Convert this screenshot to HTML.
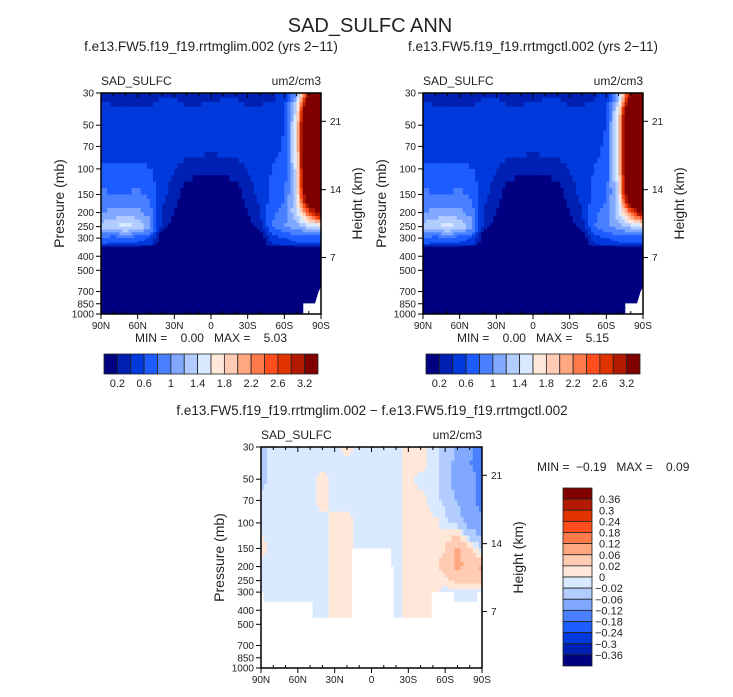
<!DOCTYPE html>
<html><head><meta charset="utf-8"><style>
html,body{margin:0;padding:0;background:#fff;}
svg text{font-family:"Liberation Sans",sans-serif;fill:#222;white-space:pre;}
</style></head><body>
<svg id="fig" width="733" height="692" viewBox="0 0 733 692" xmlns="http://www.w3.org/2000/svg">
<text x="370" y="32" font-size="20" text-anchor="middle">SAD_SULFC ANN</text>
<text x="211" y="51" font-size="13.5" text-anchor="middle">f.e13.FW5.f19_f19.rrtmglim.002 (yrs 2−11)</text>
<text x="533" y="51" font-size="13.5" text-anchor="middle">f.e13.FW5.f19_f19.rrtmgctl.002 (yrs 2−11)</text>
<g id="layer"></g>
<text x="372" y="415" font-size="13.5" text-anchor="middle">f.e13.FW5.f19_f19.rrtmglim.002 − f.e13.FW5.f19_f19.rrtmgctl.002</text>
</svg>
<script>
const lats=[90,80,70,60,50,40,30,20,10,0,-10,-20,-30,-40,-50,-60,-70,-80,-90];
const levs=[30,40,50,70,100,150,200,250,300,330,350,400,500,700,1000];
const pTicks=[30,50,70,100,150,200,250,300,400,500,700,850,1000];
const latTicks=[90,60,30,0,-30,-60,-90];
const latTickLabels=['90N','60N','30N','0','30S','60S','90S'];
const hTicks=['7','14','21'];
const hTickP=[408,139,47];
const absLevels=[0.2,0.4,0.6,0.8,1,1.2,1.4,1.6,1.8,2,2.2,2.4,2.6,2.8,3.2];
const absLabels=['0.2','0.6','1','1.4','1.8','2.2','2.6','3.2'];
const diffLevels=[-0.36,-0.3,-0.24,-0.18,-0.12,-0.06,-0.02,0,0.02,0.06,0.12,0.18,0.24,0.3,0.36];
const diffLabels=['0.36','0.3','0.24','0.18','0.12','0.06','0.02','0','−0.02','−0.06','−0.12','−0.18','−0.24','−0.3','−0.36'];
const colors=['#000080','#0020b4','#0039dc','#1d5cff','#4a80ff','#80a8ff','#b3ccff','#d9e9ff','#ffe8d9','#ffcbb3','#ffa880','#ff7a4a','#ff4d1d','#e03300','#b31a00','#800000'];
const z=[0,0,0,0,0,0,0,0,0,0,0,0,0,0,0,0,0,0,0];
const lim=[
[.35,.35,.35,.35,.35,.38,.38,.35,.35,.35,.38,.38,.35,.35,.35,.45,1.0,3.0,3.5],
[.45,.42,.41,.41,.42,.45,.45,.42,.42,.45,.45,.45,.42,.42,.45,.55,1.5,4.5,5],
[.5,.5,.5,.5,.5,.5,.5,.5,.5,.5,.5,.5,.5,.5,.5,.6,1.6,5,5],
[.5,.5,.5,.5,.5,.5,.5,.5,.5,.5,.5,.5,.5,.5,.55,.62,1.6,5,5],
[.65,.65,.62,.65,.6,.5,.42,.3,.25,.22,.25,.3,.42,.5,.6,.65,1.5,5,5],
[.85,.8,.8,.85,.75,.45,.3,.1,.05,.05,.05,.1,.3,.45,.65,.75,1.4,4.5,5],
[1.0,1.05,1.1,1.05,.9,.4,.2,0,0,0,0,0,.2,.4,.75,.9,1.4,2.5,3.5],
[1.3,1.4,1.5,1.4,1.1,.3,.1,0,0,0,0,0,.1,.3,.8,1.0,1.1,1.3,1.4],
[.8,.7,.75,.7,.6,0,0,0,0,0,0,0,0,0,.5,.6,.7,.7,.7],
[.6,.55,.55,.55,.5,0,0,0,0,0,0,0,0,0,.4,.5,.55,.55,.55],
z,z,z,z,[0,0,0,0,0,0,0,0,0,0,0,0,0,0,0,0,0,null,null]];
const ctl=[
[.35,.35,.35,.35,.35,.38,.38,.35,.35,.35,.38,.38,.35,.35,.35,.46,1.1,3.1,3.6],
[.45,.42,.41,.41,.42,.45,.45,.42,.42,.45,.45,.45,.42,.42,.45,.56,1.6,4.6,5.1],
[.5,.5,.5,.5,.5,.5,.5,.5,.5,.5,.5,.5,.5,.5,.5,.61,1.7,5.1,5.1],
[.5,.5,.5,.5,.5,.5,.5,.5,.5,.5,.5,.5,.5,.5,.55,.63,1.7,5.1,5.1],
[.65,.65,.62,.65,.6,.5,.42,.3,.25,.22,.25,.3,.42,.5,.6,.66,1.6,5.1,5.1],
[.85,.8,.8,.85,.75,.45,.3,.1,.05,.05,.05,.1,.3,.45,.65,.75,1.4,4.5,5],
[1.0,1.05,1.1,1.05,.9,.4,.2,0,0,0,0,0,.2,.4,.75,.88,1.35,2.4,3.4],
[1.3,1.4,1.5,1.4,1.1,.3,.1,0,0,0,0,0,.1,.3,.78,.98,1.08,1.28,1.38],
[.8,.7,.75,.7,.6,0,0,0,0,0,0,0,0,0,.5,.6,.7,.7,.7],
[.6,.55,.55,.55,.5,0,0,0,0,0,0,0,0,0,.4,.5,.55,.55,.55],
z,z,z,z,[0,0,0,0,0,0,0,0,0,0,0,0,0,0,0,0,0,null,null]];
const r3=[-.01,-.01,-.01,-.01,-.01,-.01,.01,.01,-.01,-.01,-.01,-.01,.01,.01,.01,-.01,-.01,-.01,-.01];
const diff=[
[-.03,-.01,-.01,-.01,-.01,-.01,-.01,.01,-.01,-.01,-.01,-.01,.01,.01,-.01,-.03,-.07,-.1,-.15],
[-.03,-.01,-.01,-.01,-.01,-.01,-.01,-.01,-.01,-.01,-.01,-.01,.01,.01,-.01,-.03,-.08,-.12,-.15],
[-.03,-.01,-.01,-.01,-.01,.01,-.01,-.01,-.01,-.01,-.01,-.01,.01,-.01,-.01,-.03,-.1,-.08,-.15],
[-.01,-.01,-.01,-.01,-.01,.01,-.01,-.01,-.01,-.01,-.01,-.01,.01,.01,-.01,-.03,-.06,-.1,-.15],
[-.01,-.01,-.01,-.01,-.01,-.01,.01,.01,-.01,-.01,-.01,-.01,.01,.01,.01,-.01,-.03,-.1,-.1],
[.01,-.01,-.01,-.01,-.01,-.01,.01,.01,-.01,-.01,-.01,-.01,.01,.01,.01,.02,.07,.03,-.03],
[-.01,-.01,-.01,-.01,-.01,-.01,.01,.01,-.01,-.01,-.01,-.01,.01,.01,.01,.03,.07,.05,.07],
[-.01,-.01,-.01,-.01,-.01,-.01,.01,.01,-.01,-.01,-.01,-.01,.01,.01,.01,.01,.03,.03,.03],
r3,r3,r3,r3,r3,r3,r3];
const diffMaskLat=[90,90,88,88,48,48,16,16,-16,-16,-18,-18,-49,-49,-67,-67,-86,-86,-90,-90];
const diffMaskP=[1000,300,300,350,350,450,450,150,150,200,200,450,450,300,300,350,350,300,300,1000];
const absMaskLat=[-90,-90,-88,-85,-82];
const absMaskP=[1000,650,700,850,1000];

const NS='http://www.w3.org/2000/svg';
const layer=document.getElementById('layer');
function mk(tag,attrs,parent){const e=document.createElementNS(NS,tag);for(const k in attrs)e.setAttribute(k,attrs[k]);(parent||layer).appendChild(e);return e;}
function makeX(x0,w){return lat=>x0+(90-lat)/180*w;}
function makeY(y0,h){const L=Math.log10(1000/30);return p=>y0+Math.log10(p/30)/L*h;}
function colorFor(v,levels){let k=0;for(const b of levels){if(v>=b)k++;}return colors[k];}

function panel(name,x0,y0,w,h,grid,levels,maskLat,maskP){
  const X=makeX(x0,w),Y=makeY(y0,h);
  const g=mk('g',{});
  
  
  const n=4;
  for(let j=0;j<levs.length-1;j++){
    for(let i=0;i<lats.length-1;i++){
      const a=grid[j][i],b=grid[j][i+1],c=grid[j+1][i],d=grid[j+1][i+1];
      const xa=X(lats[i]),xb=X(lats[i+1]),ya=Y(levs[j]),yb=Y(levs[j+1]);
      for(let sj=0;sj<n;sj++)for(let si=0;si<n;si++){
        const u=(si+0.5)/n,v=(sj+0.5)/n;
        let val;
        if(a==null||b==null||c==null||d==null){
          const arr=[[a,b],[c,d]][v<0.5?0:1][u<0.5?0:1];
          if(arr==null)continue;val=arr;
        } else val=a*(1-u)*(1-v)+b*u*(1-v)+c*(1-u)*v+d*u*v;
        const rx=xa+(xb-xa)*si/n,ry=ya+(yb-ya)*sj/n;
        const r=mk('rect',{x:rx.toFixed(2),y:ry.toFixed(2),width:((xb-xa)/n+0.6).toFixed(2),height:((yb-ya)/n+0.6).toFixed(2),fill:colorFor(val,levels)},g);
        
        
      }
    }
  }
  if(maskLat){
    const pts=maskLat.map((l,k)=>X(l).toFixed(1)+','+Y(maskP[k]).toFixed(1)).join(' ');
    const m=mk('polygon',{points:pts,fill:'#fff'},g);
    
    
  }
  const cl=mk('path',{d:`M${x0-3},${y0-3}H${x0+w+3}V${y0+h+3}H${x0-3}Z M${x0},${y0}V${y0+h}H${x0+w}V${y0}Z`,fill:'#fff','fill-rule':'evenodd'},g);
  
  
  const fr=mk('rect',{x:x0,y:y0,width:w,height:h,fill:'none',stroke:'#000','stroke-width':1.5},g);
  
  
  for(let l=90;l>=-90;l-=10){
    const major=l%30===0;const L=major?5:3;
    const t1=mk('line',{x1:X(l),x2:X(l),y1:y0,y2:y0+L,stroke:'#000'},g);
    
    
    const t2=mk('line',{x1:X(l),x2:X(l),y1:y0+h-(major?0:3),y2:y0+h+(major?5:0),stroke:'#000'},g);
    
    
  }
  latTicks.forEach((l,k)=>{
    const t=mk('text',{x:X(l),y:y0+h+15,'font-size':10,'text-anchor':'middle'},g);
    t.textContent=latTickLabels[k];
    
    
  });
  pTicks.forEach(p=>{
    const tk=mk('line',{x1:x0-5,x2:x0,y1:Y(p),y2:Y(p),stroke:'#000'},g);
    
    
    const t=mk('text',{x:x0-7,y:Y(p)+3.5,'font-size':10,'text-anchor':'end'},g);
    t.textContent=String(p);
    
    
  });
  hTicks.forEach((s,k)=>{
    const yy=Y(hTickP[k]);
    const tk=mk('line',{x1:x0+w,x2:x0+w+5,y1:yy,y2:yy,stroke:'#000'},g);
    
    
    const t=mk('text',{x:x0+w+9,y:yy+3.5,'font-size':10},g);
    t.textContent=s;
    
    
  });
  const yl=mk('text',{x:0,y:0,'font-size':14,'text-anchor':'middle',transform:`translate(${x0-37},${y0+h/2}) rotate(-90)`},g);
  yl.textContent='Pressure (mb)';
  
  
  const hl=mk('text',{x:0,y:0,'font-size':14,'text-anchor':'middle',transform:`translate(${x0+w+41},${y0+h/2}) rotate(-90)`},g);
  hl.textContent='Height (km)';
  
  
  const lt=mk('text',{x:x0,y:y0-8,'font-size':12},g);
  lt.textContent='SAD_SULFC';
  
  
  const ut=mk('text',{x:x0+w,y:y0-8,'font-size':12,'text-anchor':'end'},g);
  ut.textContent='um2/cm3';
  
  
}

function hbar(name,x0,y0,w,h){
  const g=mk('g',{});
  
  
  const bw=w/colors.length;
  colors.forEach((c,k)=>{
    const r=mk('rect',{x:x0+k*bw,y:y0,width:bw,height:h,fill:c,stroke:'#222','stroke-width':0.8},g);
    
    
  });
  absLabels.forEach((s,k)=>{
    const t=mk('text',{x:x0+(2*k+1)*bw,y:y0+h+13,'font-size':11,'text-anchor':'middle'},g);
    t.textContent=s;
    
    
  });
}
function vbar(name,x0,y0,w,h){
  const g=mk('g',{});
  
  
  const bh=h/colors.length;
  colors.slice().reverse().forEach((c,k)=>{
    const r=mk('rect',{x:x0,y:y0+k*bh,width:w,height:bh,fill:c,stroke:'#222','stroke-width':0.8},g);
    
    
  });
  diffLabels.forEach((s,k)=>{
    const t=mk('text',{x:x0+w+(s.startsWith('−')?3:7),y:y0+(k+1)*bh+4,'font-size':11},g);
    t.textContent=s;
    
    
  });
}
function txt(name,x,y,s,anchor){
  const t=mk('text',{x:x,y:y,'font-size':12,'text-anchor':anchor||'middle'});
  t.textContent=s;
  
  
}
panel('panel-rrtmglim',101,93,220,221,lim,absLevels,absMaskLat,absMaskP);
panel('panel-rrtmgctl',423,93,220,221,ctl,absLevels,absMaskLat,absMaskP);
panel('panel-difference',261,447,221,221,diff,diffLevels,diffMaskLat,diffMaskP);
hbar('colorbar-rrtmglim',104,354,214,20);
hbar('colorbar-rrtmgctl',426,354,214,20);
vbar('colorbar-difference',563,488,29,178);
txt('minmax-rrtmglim',211,342,'MIN =    0.00   MAX =    5.03');
txt('minmax-rrtmgctl',533,342,'MIN =    0.00   MAX =    5.15');
txt('minmax-difference',537,471,'MIN =  −0.19   MAX =    0.09','start');
</script>
</body></html>
